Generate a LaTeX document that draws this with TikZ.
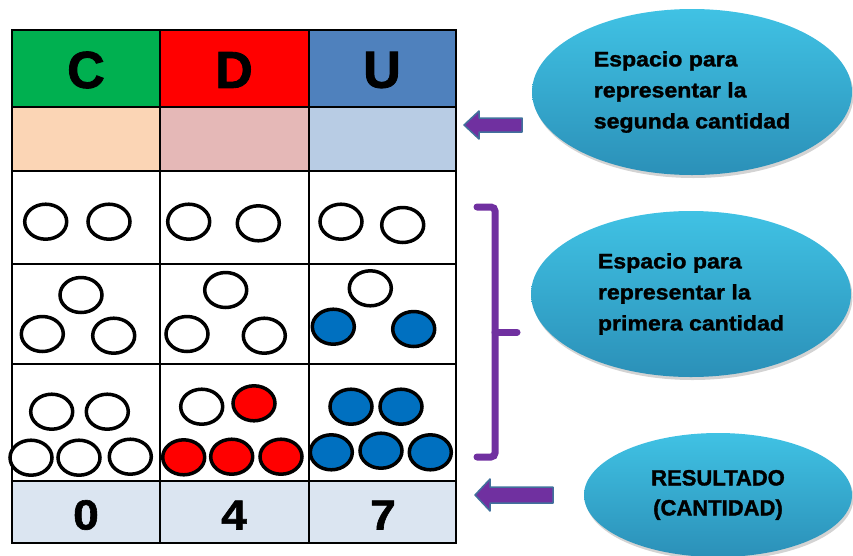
\documentclass[tikz,border=0pt]{standalone}
\usepackage{fontspec}
\setmainfont{Liberation Sans}
\newfontfamily\gruesa{Liberation Sans Bold}[FakeBold=1.6]
\newfontfamily\ancha{Liberation Sans Bold}[FakeStretch=1.1,FakeBold=1.4]
\usetikzlibrary{shapes.geometric,shadows}
\definecolor{verdeC}{HTML}{00B050}
\definecolor{rojoD}{HTML}{FF0000}
\definecolor{azulU}{HTML}{4F81BD}
\definecolor{durazno}{HTML}{FBD5B5}
\definecolor{rosa}{HTML}{E5B8B7}
\definecolor{celeste}{HTML}{B8CCE4}
\definecolor{gris}{HTML}{DBE5F1}
\definecolor{fichaazul}{HTML}{0070C0}
\definecolor{morado}{HTML}{7030A0}
\definecolor{bordeflecha}{HTML}{41719C}
\definecolor{cianclaro}{HTML}{40C2E4}
\definecolor{cianoscuro}{HTML}{2B90B8}
\tikzset{
  ficha/.style={draw=black,line width=3.5pt,fill=white},
  globo/.style={ellipse,draw=none,top color=cianclaro,bottom color=cianoscuro,
    drop shadow={opacity=.35,shadow xshift=1.5pt,shadow yshift=-3pt},
    inner sep=0pt,font=\ancha\fontsize{21}{31}\selectfont,align=left},
  flecha/.style={fill=morado,draw=bordeflecha,line width=1.5pt,line join=round},
  llave/.style={draw=morado,line width=7pt,line cap=round,rounded corners=4pt},
  letra/.style={font=\gruesa\fontsize{52}{52}\selectfont},
  cifra/.style={font=\ancha\fontsize{42}{42}\selectfont}
}

\begin{document}
\begin{tikzpicture}[x=1pt,y=-1pt]
	\useasboundingbox (0,0) rectangle (853,555);

	\fill[verdeC] (12,30) rectangle (160,107);
	\fill[rojoD] (160,30) rectangle (309,107);
	\fill[azulU] (309,30) rectangle (456,107);
	\fill[durazno] (12,107) rectangle (160,171);
	\fill[rosa] (160,107) rectangle (309,171);
	\fill[celeste] (309,107) rectangle (456,171);
	\fill[gris] (12,481) rectangle (456,543);

	\draw[line width=2pt] (12,30) rectangle (456,543);
	\foreach \y in {107,171,264,364,481}
		\draw[line width=2pt] (12,\y) -- (456,\y);
	\foreach \x in {160,309}
		\draw[line width=1.5pt] (\x,30) -- (\x,543);

	\node[letra] (hC) at (86,70) {C};
	\node[letra] (hD) at (234,70) {D};
	\node[letra] (hU) at (382,70) {U};

	\node[cifra] (n0) at (86,515) {0};
	\node[cifra] (n4) at (234,515) {4};
	\node[cifra] (n7) at (383,515) {7};

	\foreach \x/\y in {45.7/221.7,109/221.7,188.7/221.7,258.3/223.3,341/221.7,402.7/225,
		81/295,42.3/334,113.7/335.7,225.7/290,187/334,264.3/335.7,370.3/288.3,
		51.7/411.7,107.3/411.7,31/457.7,79/457.7,130.3/456.7,201.7/406.7}
		\draw[ficha] (\x,\y) ellipse [x radius=21pt,y radius=17.5pt];
	\foreach \x/\y in {254/403.3,183.7/457.3,231.7/456.7,281/456.7}
		\draw[ficha,fill=rojoD] (\x,\y) ellipse [x radius=21pt,y radius=17.5pt];
	\foreach \x/\y in {333.3/326.7,413.7/329,351/406.7,401/406.7,331.3/452.3,381/450.7,430.3/452.3}
		\draw[ficha,fill=fichaazul] (\x,\y) ellipse [x radius=21pt,y radius=17.5pt];

	\node[globo,minimum width=320,minimum height=166] (segunda) at (692,92)
		{Espacio para\\representar la\\segunda cantidad};
	\node[globo,minimum width=320,minimum height=166] (primera) at (691,294)
		{Espacio para\\representar la\\primera cantidad};
	\node[globo,minimum width=268,minimum height=124,align=center,
		font=\gruesa\fontsize{22}{30}\selectfont] (resultado) at (718,495)
		{RESULTADO\\(CANTIDAD)};

	\coordinate (punta1) at (464,125);
	\coordinate (punta2) at (475,495);
	\draw[flecha] (punta1) -- ++(15,-14) -- ++(0,7) -- ++(43,0) -- ++(0,14)
		-- ++(-43,0) -- ++(0,7) -- cycle;
	\draw[flecha] (punta2) -- ++(15,-16) -- ++(0,8) -- ++(63,0) -- ++(0,16)
		-- ++(-63,0) -- ++(0,8) -- cycle;

	\draw[llave] (477,207) -- (495,207) -- (495,457) -- (477,457);
	\draw[llave] (495,332) -- (517,332);

\end{tikzpicture}
\end{document}
